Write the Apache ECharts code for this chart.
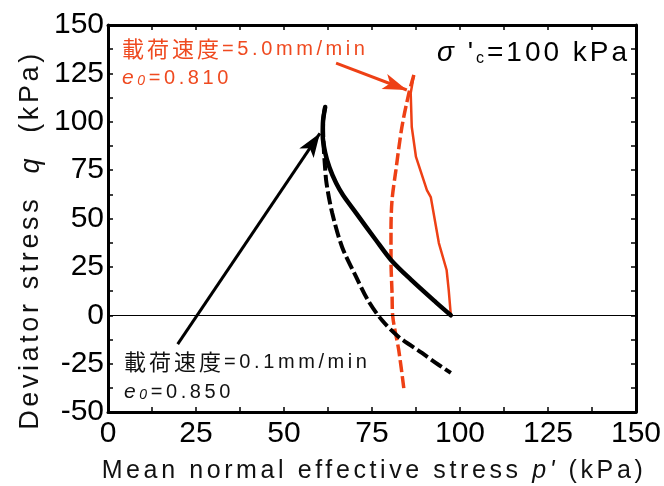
<!DOCTYPE html>
<html><head><meta charset="utf-8">
<script src="https://cdn.jsdelivr.net/npm/echarts@6/dist/echarts.min.js"></script>
<style>html,body{margin:0;padding:0;background:#fff}#c{width:664px;height:486px}</style>
</head><body><div id="c"></div>
<script>
// ---------- data ----------
const xTicks = [0, 25, 50, 75, 100, 125, 150];
const yTicks = [-50, -25, 0, 25, 50, 75, 100, 125, 150];

// loading speed 0.1 mm/min (black), solid path
const slowEffP = [97.4, 93.1, 86.3, 80.4, 76.1, 70.5, 66.8, 64.8, 62.9, 61.7, 61.0, 61.1, 61.7];
const slowEffQ = [0.0, 6.8, 18.0, 28.6, 38.9, 52.8, 62.0, 68.3, 76.5, 84.0, 93.0, 100.5, 107.6];
// loading speed 0.1 mm/min (black), dashed path
const slowDashP = [61.7, 61.1, 61.2, 61.6, 62.1, 63.7, 66.5, 70.5, 73.8, 77.8, 82.6, 89.2, 94.0, 97.4];
const slowDashQ = [107.6, 100.0, 90.0, 78.0, 68.0, 52.8, 35.3, 19.8, 7.9, -2.5, -11.2, -19.5, -25.7, -29.8];

// loading speed 5.0 mm/min (red), solid path
const fastEffP = [97.4, 96.8, 96.2, 94.0, 91.7, 90.6, 87.5, 86.3, 86.0, 86.9];
const fastEffQ = [0.0, 13.0, 23.4, 37.3, 61.1, 64.7, 81.8, 97.3, 114.9, 124.2];
// loading speed 5.0 mm/min (red), dashed path
const fastDashP = [86.9, 85.5, 83.5, 81.8, 80.7, 80.4, 80.4, 80.7, 80.9, 82.6, 84.1];
const fastDashQ = [124.2, 114.9, 97.3, 75.1, 59.6, 44.1, 28.6, 11.5, -0.6, -18.0, -38.6];

// annotation arrows [p, q] start -> tip
const slowArrowFrom = [19.8, -14.9];
const slowArrowTo = [60.2, 94.0];
const fastArrowFrom = [64.8, 130.3];
const fastArrowTo = [84.9, 116.4];

// ---------- letter spacing helper (family entry "lsNN" = NN/10 px) ----------
(function () {
  const P = CanvasRenderingContext2D.prototype;
  function sp(ctx) {
    const m = /ls(\d+)/.exec(ctx.font || '');
    try { ctx.letterSpacing = m ? (m[1] / 10) + 'px' : '0px'; } catch (e) {}
  }
  const mt = P.measureText, ft = P.fillText, st = P.strokeText;
  P.measureText = function () { sp(this); return mt.apply(this, arguments); };
  P.fillText = function () { sp(this); return ft.apply(this, arguments); };
  P.strokeText = function () { sp(this); return st.apply(this, arguments); };
})();

const zip = (a, b) => a.map((v, i) => [v, b[i]]);
const RED = '#ee4015';
const RED_TXT = '#ef4a20';
const SANS = 'Liberation Sans';
const SP38 = 'Liberation Sans, ls36';
const SP32 = 'Liberation Sans, ls30';
const CJK = 'Noto Sans CJK JP, ls30';

const chart = echarts.init(document.getElementById('c'), null, { renderer: 'canvas' });

const tickStyle = { color: '#000', width: 1.5 };
function xAx(pos, labels) {
  return {
    type: 'value', position: pos, min: xTicks[0], max: xTicks[xTicks.length - 1], interval: 25,
    axisLine: { show: true, onZero: false, lineStyle: { color: '#000', width: 3 } },
    axisTick: { show: true, inside: true, length: 5, lineStyle: tickStyle },
    minorTick: { show: true, splitNumber: 2, length: 5, lineStyle: tickStyle },
    splitLine: { show: false },
    axisLabel: { show: labels, margin: 7, fontSize: 30, fontFamily: SANS, color: '#000', showMinLabel: true, showMaxLabel: true }
  };
}
function yAx(pos, labels) {
  return {
    type: 'value', position: pos, min: yTicks[0], max: yTicks[yTicks.length - 1], interval: 25,
    axisLine: { show: true, onZero: false, lineStyle: { color: '#000', width: 3 } },
    axisTick: { show: true, inside: true, length: 5, lineStyle: tickStyle },
    minorTick: { show: true, splitNumber: 2, length: 5, lineStyle: tickStyle },
    splitLine: { show: false },
    axisLabel: { show: labels, margin: 4, fontSize: 30, fontFamily: SANS, color: '#000', showMinLabel: true, showMaxLabel: true }
  };
}

const arrowLine = (from, to, color, size) => ({
  silent: true, animation: false,
  symbol: ['none', 'arrow'], symbolSize: size,
  label: { show: false },
  emphasis: { disabled: true },
  lineStyle: { color: color, width: 3, type: 'solid' },
  data: [[{ coord: from }, { coord: to }]]
});

chart.setOption({
  animation: false,
  grid: { left: 108, right: 26, top: 25, bottom: 74, containLabel: false },
  xAxis: [xAx('bottom', true), xAx('top', false)],
  yAxis: [yAx('left', true), yAx('right', false)],
  series: [
    {
      type: 'line', data: zip(fastEffP, fastEffQ), showSymbol: false, symbol: 'none',
      lineStyle: { color: RED, width: 2.5, join: 'round' }, z: 3,
      markLine: arrowLine(fastArrowFrom, fastArrowTo, RED, [12, 24])
    },
    {
      type: 'line', data: zip(fastDashP, fastDashQ), showSymbol: false, symbol: 'none', smooth: 0.3,
      lineStyle: { color: RED, width: 3.5, type: [12, 4] }, z: 3
    },
    {
      type: 'line', data: zip(slowDashP, slowDashQ), showSymbol: false, symbol: 'none', smooth: 0.3,
      lineStyle: { color: '#000', width: 4, type: [13, 4] }, z: 4,
      markLine: {
        silent: true, symbol: 'none', label: { show: false }, emphasis: { disabled: true },
        lineStyle: { color: '#000', width: 1, type: 'solid' },
        data: [{ yAxis: 0 }]
      }
    },
    {
      type: 'line', data: zip(slowEffP, slowEffQ), showSymbol: false, symbol: 'none', smooth: 0.3,
      lineStyle: { color: '#000', width: 4.5, cap: 'round', join: 'round' }, z: 5,
      markLine: arrowLine(slowArrowFrom, slowArrowTo, '#000', [13, 24])
    }
  ],
  graphic: [
    {
      type: 'text', x: 122, y: 49, z: 10,
      style: {
        text: '{c|載荷速度}{a|=5.0mm/min}', align: 'left', verticalAlign: 'middle',
        rich: {
          c: { fontSize: 22, fontFamily: CJK, fill: RED_TXT, color: RED_TXT },
          a: { fontSize: 20, fontFamily: SP38, fill: RED_TXT, color: RED_TXT }
        }
      }
    },
    {
      type: 'text', x: 122, y: 78, z: 10,
      style: {
        text: '{e|e}{s|0}{a|=0.810}', align: 'left', verticalAlign: 'middle',
        rich: {
          e: { fontSize: 21, fontStyle: 'italic', fontFamily: SP38, fill: RED_TXT, color: RED_TXT, verticalAlign: 'bottom' },
          s: { fontSize: 14, fontStyle: 'italic', fontFamily: SP38, fill: RED_TXT, color: RED_TXT, verticalAlign: 'bottom' },
          a: { fontSize: 20, fontFamily: SP38, fill: RED_TXT, color: RED_TXT, verticalAlign: 'bottom' }
        }
      }
    },
    {
      type: 'text', x: 437, y: 53, z: 10,
      style: {
        text: '{g|σ}{a| \'}{s|c}{a|=100 kPa}', align: 'left', verticalAlign: 'middle',
        rich: {
          g: { fontSize: 28, fontStyle: 'italic', fontFamily: SP32, fill: '#000', color: '#000', verticalAlign: 'bottom' },
          s: { fontSize: 16, fontFamily: SP32, fill: '#000', color: '#000', verticalAlign: 'bottom' },
          a: { fontSize: 28, fontFamily: SP32, fill: '#000', color: '#000', verticalAlign: 'bottom' }
        }
      }
    },
    {
      type: 'text', x: 124, y: 362, z: 10,
      style: {
        text: '{c|載荷速度}{a|=0.1mm/min}', align: 'left', verticalAlign: 'middle',
        rich: {
          c: { fontSize: 22, fontFamily: CJK, fill: '#111', color: '#111' },
          a: { fontSize: 20, fontFamily: SP38, fill: '#111', color: '#111' }
        }
      }
    },
    {
      type: 'text', x: 124, y: 392, z: 10,
      style: {
        text: '{e|e}{s|0}{a|=0.850}', align: 'left', verticalAlign: 'middle',
        rich: {
          e: { fontSize: 21, fontStyle: 'italic', fontFamily: SP38, fill: '#111', color: '#111', verticalAlign: 'bottom' },
          s: { fontSize: 14, fontStyle: 'italic', fontFamily: SP38, fill: '#111', color: '#111', verticalAlign: 'bottom' },
          a: { fontSize: 20, fontFamily: SP38, fill: '#111', color: '#111', verticalAlign: 'bottom' }
        }
      }
    },
    {
      type: 'text', x: 374, y: 471, z: 10,
      style: {
        text: '{a|Mean normal effective stress }{i|p\'}{a| (kPa)}', align: 'center', verticalAlign: 'middle',
        rich: {
          a: { fontSize: 25, fontFamily: SP38, fill: '#111', color: '#111' },
          i: { fontSize: 25, fontStyle: 'italic', fontFamily: SP38, fill: '#111', color: '#111' }
        }
      }
    },
    {
      type: 'text', x: 31, y: 240, rotation: Math.PI / 2, z: 10,
      style: {
        text: '{a|Deviator stress  }{i|q}{a|  (kPa)}', align: 'center', verticalAlign: 'middle',
        rich: {
          a: { fontSize: 27, fontFamily: SP38, fill: '#111', color: '#111' },
          i: { fontSize: 27, fontStyle: 'italic', fontFamily: SP38, fill: '#111', color: '#111' }
        }
      }
    }
  ]
});
</script>
</body></html>
